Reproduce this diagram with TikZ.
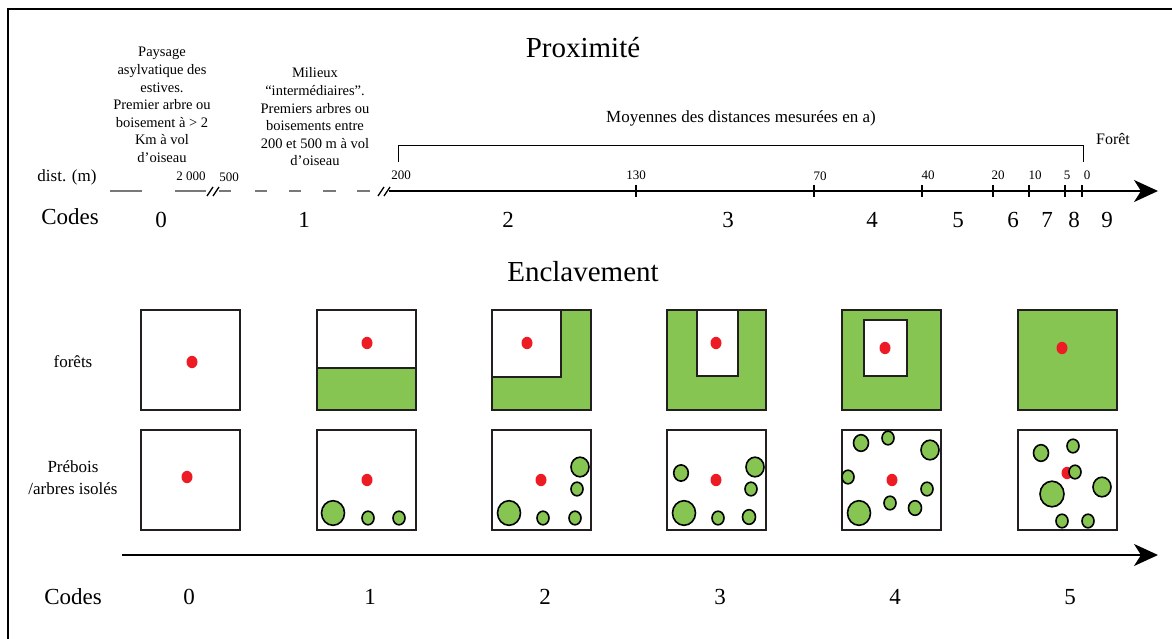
\documentclass[tikz,border=0pt]{standalone}
\usepackage{fontspec}
\setmainfont{Liberation Serif}
\usetikzlibrary{arrows.meta}
\definecolor{leaf}{RGB}{134,197,82}
\definecolor{dotred}{RGB}{237,28,36}
\definecolor{edge}{RGB}{35,31,32}
\definecolor{dashgray}{RGB}{120,120,120}
\begin{document}
\begin{tikzpicture}[x=1pt,y=-1pt,
  box/.style={draw=edge,line width=2pt},
  tree/.style={draw=black,line width=1.6pt,fill=leaf},
  reddot/.style={fill=dotred},
  para/.style={align=center,font=\fontsize{14.5}{17.6}\selectfont,inner sep=0pt},
  ticklab/.style={font=\fontsize{13}{15}\selectfont,inner sep=0pt},
  codelab/.style={font=\fontsize{23}{26}\selectfont,inner sep=0pt},
  titlelab/.style={font=\fontsize{29}{32}\selectfont,inner sep=0pt},
  rowlab/.style={align=center,font=\fontsize{17}{22}\selectfont,inner sep=0pt},
  axisline/.style={line width=2pt,-{Stealth[length=24pt,width=22pt,inset=7pt]}},
  tickmark/.style={line width=2pt},
  grayseg/.style={draw=dashgray,line width=2pt},
  breakmark/.style={line width=1.3pt}
]
\useasboundingbox (0,0) rectangle (1172,639);
% frame
\draw[line width=2pt] (8,639) -- (8,9) -- (1172,9);

% ---------- Proximite ----------
\node[titlelab] (prox) at (583,48) {Proximité};
\node[para] (txt0) at (162,105) {Paysage\\asylvatique des\\estives.\\Premier arbre ou\\boisement à > 2\\Km à vol\\d’oiseau};
\node[para] (txt1) at (315,117) {Milieux\\“intermédiaires”.\\Premiers arbres ou\\boisements entre\\200 et 500 m à vol\\d’oiseau};
\node[font=\fontsize{17}{20}\selectfont,inner sep=0pt] (dist) at (67,177) {dist. (m)};
\node[ticklab] (l2000) at (191,176) {2 000};
\node[ticklab] (l500) at (229,177) {500};

% gray dashed part
\draw[grayseg] (110,191) -- (142,191);
\draw[grayseg] (175,191) -- (206,191);
\draw[breakmark] (207,196) -- (213,187);
\draw[breakmark] (213,196) -- (219,187);
\foreach \a/\b in {219/231,255/267,289/301,323/336,357/370}
  \draw[grayseg] (\a,191) -- (\b,191);
\draw[breakmark] (378,196) -- (384,187);
\draw[breakmark] (384,196) -- (390,187);

% main axis
\coordinate (axstart) at (389,191);
\coordinate (axend) at (1158,191);
\draw[axisline] (axstart) -- (axend);
\foreach \x in {636,814,922,993,1029,1065,1082}
  \draw[tickmark] (\x,185) -- (\x,197);
\node[ticklab] (t200) at (401,175) {200};
\node[ticklab] (t130) at (636,175) {130};
\node[ticklab] (t70) at (820,176) {70};
\node[ticklab] (t40) at (928,175) {40};
\node[ticklab] (t20) at (998,175) {20};
\node[ticklab] (t10) at (1035,175) {10};
\node[ticklab] (t5) at (1067,175) {5};
\node[ticklab] (t0) at (1087,175) {0};

% bracket
\draw[line width=0.8pt] (398,162) -- (398,145) -- (1083,145) -- (1083,162);
\node[font=\fontsize{17}{20}\selectfont,inner sep=0pt] (moy) at (741,118) {Moyennes des distances mesurées en a)};
\node[font=\fontsize{16}{19}\selectfont,inner sep=0pt] (foret) at (1113,139) {Forêt};

% codes
\node[codelab] (codesA) at (70,217) {Codes};
\foreach \x/\c in {161/0,304/1,508/2,728/3,872/4,958/5,1013/6,1047/7,1074/8,1107/9}
  \node[codelab] (ca\c) at (\x,220) {\c};

% ---------- Enclavement ----------
\node[titlelab] (encl) at (583,272) {Enclavement};
\node[rowlab] (lforets) at (73,362) {forêts};
\node[rowlab] (lprebois) at (73,478) {Prébois\\/arbres isolés};

% top row
% sq0
\draw[box] (141,310) rectangle (240,410);
% sq1
\fill[leaf] (317,368) rectangle (416,410);
\draw[box] (317,368) -- (416,368);
\draw[box] (317,310) rectangle (416,410);
% sq2
\fill[leaf] (492,310) rectangle (591,410);
\draw[box,fill=white] (492,310) rectangle (561,377);
\draw[box] (492,310) rectangle (591,410);
% sq3
\fill[leaf] (667,310) rectangle (766,410);
\draw[box,fill=white] (697,310) rectangle (738,376);
\draw[box] (667,310) rectangle (766,410);
% sq4
\fill[leaf] (842,310) rectangle (941,410);
\draw[box,fill=white] (864,320) rectangle (907,376);
\draw[box] (842,310) rectangle (941,410);
% sq5
\fill[leaf] (1018,310) rectangle (1117,410);
\draw[box] (1018,310) rectangle (1117,410);
% red dots top
\foreach \x/\y in {192/362,367/343,527/343,716/343,885/348,1062/348}
  \fill[reddot] (\x,\y) ellipse [x radius=5.5, y radius=6.2];

% bottom row boxes
\foreach \x in {141,317,492,667,842,1018}
  \draw[box] (\x,430) rectangle ++(99,100);
% red dots bottom
\foreach \x/\y in {187/477,367/480,541/480,716/480,892/480,1067/473}
  \fill[reddot] (\x,\y) ellipse [x radius=5.5, y radius=6.2];
% trees
\foreach \x/\y/\r in {
  333/513/11.5, 368/518/6, 399/518/6,
  509/513/11.5, 543/518/6, 575/518/6, 580/467/9, 577/489/6,
  681/473/7.3, 684/513/11.5, 718/518/6, 749/517/6.5, 755/467/9, 751/489/6,
  861/443/7.5, 888/438/6, 930/450/9, 848/477/6, 927/489/6, 890/503/6, 915/508/6.5, 859/513/11.5,
  1041/453/7.5, 1073/446/6, 1052/494/12, 1102/487/9, 1062/521/6, 1088/521/6}
  \draw[tree] (\x,\y) ellipse [x radius=\r, y radius=\r+0.8];
\draw[tree] (1075,472) ellipse [x radius=6, y radius=6.8];

% bottom axis
\coordinate (bstart) at (122,555);
\coordinate (bend) at (1158,555);
\draw[axisline] (bstart) -- (bend);
\node[codelab] (codesB) at (73,597) {Codes};
\foreach \x/\c in {189/0,370/1,545/2,720/3,895/4,1070/5}
  \node[codelab] (cb\c) at (\x,597) {\c};
\end{tikzpicture}
\end{document}
